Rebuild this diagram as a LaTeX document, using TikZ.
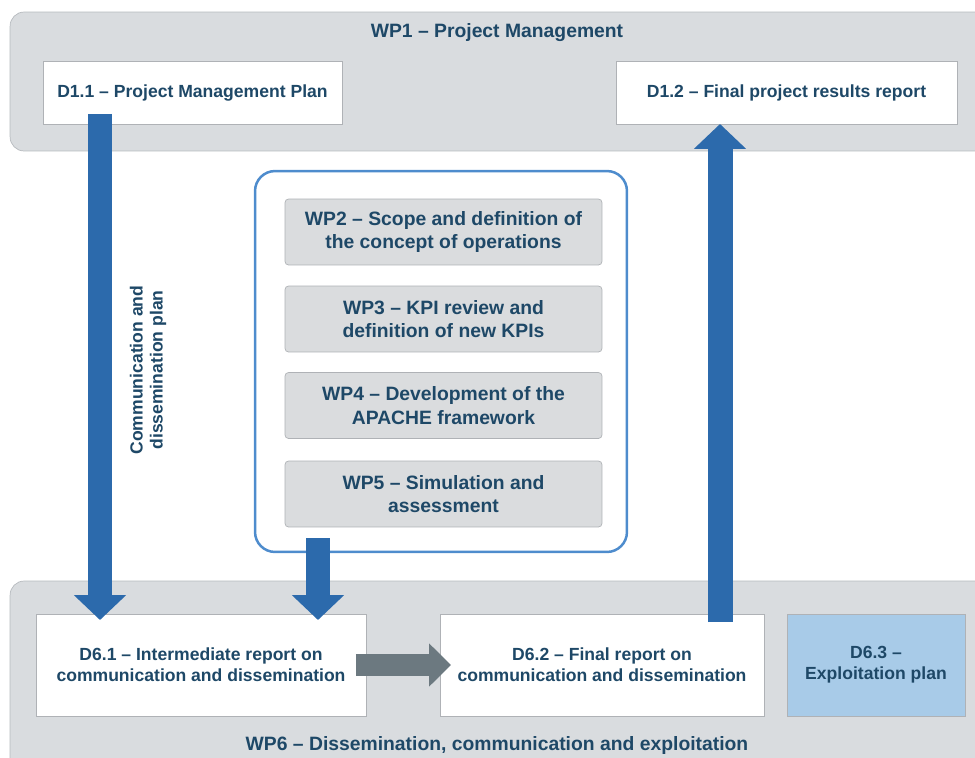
\documentclass[tikz,border=0pt]{standalone}
\usepackage{fontspec}
\setmainfont{Liberation Sans}
\usetikzlibrary{arrows.meta}

\definecolor{navy}{RGB}{30,72,103}
\definecolor{panelgray}{RGB}{217,220,223}
\definecolor{panelline}{RGB}{182,186,190}
\definecolor{boxline}{RGB}{175,178,182}
\definecolor{wpgray}{RGB}{218,220,222}
\definecolor{arrowblue}{RGB}{44,106,172}
\definecolor{framblue}{RGB}{78,140,205}
\definecolor{lightblue}{RGB}{168,203,232}
\definecolor{arrowgray}{RGB}{108,121,128}

\tikzset{
  panel/.style={draw=panelline, fill=panelgray, rounded corners=8pt, outer sep=0pt},
  delbox/.style={draw=boxline, fill=white, align=center, outer sep=0pt,
    font=\bfseries\fontsize{10}{12}\selectfont},
  wpbox/.style={draw=boxline, fill=wpgray, rounded corners=2pt, align=center, outer sep=0pt,
    minimum width=6.34cm, minimum height=1.32cm, font=\bfseries\fontsize{11}{13.5}\selectfont},
  title/.style={font=\bfseries\fontsize{11}{13.5}\selectfont},
  bluearrow/.style={arrowblue, line width=0.5cm, -{Triangle[length=0.5cm, width=1.02cm]}},
  grayarrow/.style={arrowgray, line width=0.44cm, -{Triangle[length=0.44cm, width=0.84cm]}}
}

\begin{document}
\begin{tikzpicture}[x=0.02cm, y=-0.02cm, text=navy]
  \useasboundingbox (0,0) rectangle (975,758);
  \clip (0,0) rectangle (975,758);

  % work package panels
  \node[panel, minimum width=19.8cm, minimum height=2.78cm] (wp1) at (505,81.5) {};
  \node[panel, minimum width=19.8cm, minimum height=4.18cm] (wp6) at (505,685.5) {};
  \node[title] (wp1title) at (497,33) {WP1 -- Project Management};
  \node[title] (wp6title) at (497,745) {WP6 -- Dissemination, communication and exploitation};

  \begin{scope}[every node/.style={delbox, minimum height=1.26cm}]
    \node[minimum width=5.98cm] (d11) at (192.5,92.5) {D1.1 -- Project Management Plan};
    \node[minimum width=6.82cm] (d12) at (786.5,92.5) {D1.2 -- Final project results report};
  \end{scope}

  \begin{scope}[every node/.style={delbox, minimum height=2.04cm}]
    \node[minimum width=6.6cm]  (d61) at (201,665) {D6.1 -- Intermediate report on\\communication and dissemination};
    \node[minimum width=6.48cm] (d62) at (602,665) {D6.2 -- Final report on\\communication and dissemination};
    \node[minimum width=3.56cm, fill=lightblue, draw=boxline] (d63) at (876,665) {D6.3 --\\Exploitation plan};
  \end{scope}

  % technical work packages
  \node[draw=framblue, line width=0.05cm, rounded corners=0.4cm, fill=white,
    minimum width=7.44cm, minimum height=7.62cm] (frame) at (441,361.5) {};

  \begin{scope}[every node/.style={wpbox}]
    \node (wp2) at (443.5,232) {WP2 -- Scope and definition of\\the concept of operations};
    \node (wp3) at (443.5,319) {WP3 -- KPI review and\\definition of new KPIs};
    \node (wp4) at (443.5,405.5) {WP4 -- Development of the\\APACHE framework};
    \node (wp5) at (443.5,494) {WP5 -- Simulation and\\assessment};
  \end{scope}

  \coordinate (leftcol) at (100,0);
  \coordinate (midcol) at (318,0);
  \coordinate (rightcol) at (720,0);

  \draw[bluearrow] ([yshift=0.2cm]leftcol |- d11.south) -- ([yshift=-0.12cm]leftcol |- d61.north);
  \draw[bluearrow] ([yshift=0.3cm]midcol |- frame.south) -- ([yshift=-0.12cm]midcol |- d61.north);
  \draw[bluearrow] ([yshift=-0.16cm]rightcol |- d62.north) -- (rightcol |- d12.south);
  \draw[grayarrow] ([xshift=-0.2cm]d61.east) -- ([xshift=0.22cm]d62.west);

  \node[rotate=90, align=center, font=\bfseries\fontsize{10}{11.4}\selectfont] (commplan) at (148,370)
    {Communication and\\dissemination plan};

\end{tikzpicture}
\end{document}
